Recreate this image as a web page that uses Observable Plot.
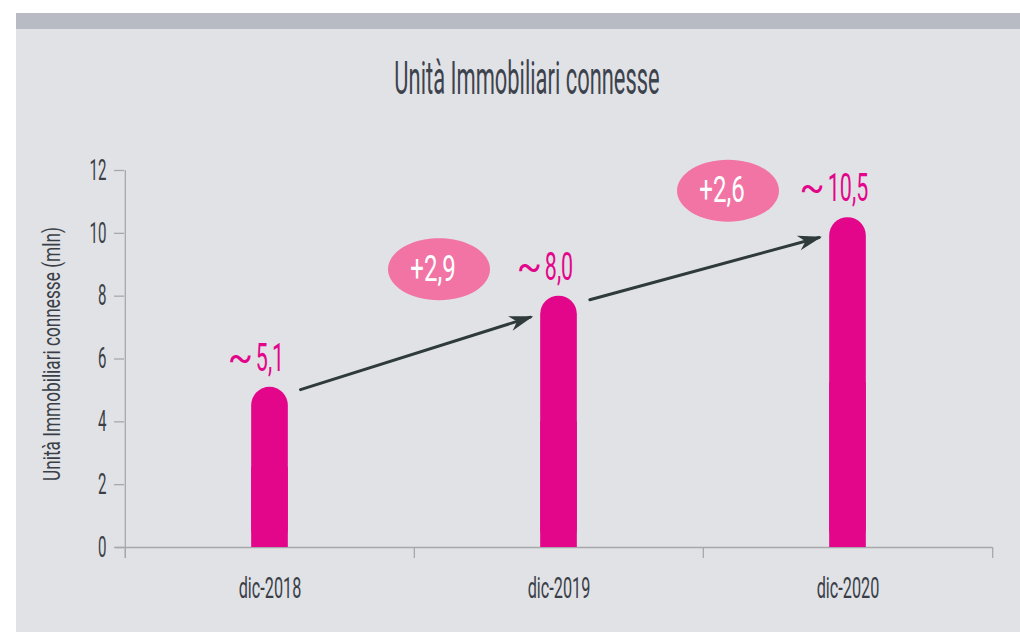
<!DOCTYPE html>
<html>
<head>
<meta charset="utf-8">
<script src="https://cdn.jsdelivr.net/npm/d3@7"></script>
<script src="https://cdn.jsdelivr.net/npm/@observablehq/plot@0.6"></script>
<style>
  html, body { margin: 0; padding: 0; background: #ffffff; width: 1020px; height: 632px; overflow: hidden; }
  #panel { position: absolute; left: 16px; top: 13px; width: 1004px; height: 619px; background: #e1e2e6; }
  #band { position: absolute; left: 16px; top: 13px; width: 1004px; height: 16px; background: #b9bbc4; }
  #title { position: absolute; left: 0; top: 54.6px; width: 1054px; text-align: center;
           font-family: Roboto, sans-serif; font-size: 46px; line-height: 46px; color: #3d434d;
           transform: scaleX(0.476); transform-origin: 527px 0; white-space: nowrap; }
  #chart { position: absolute; left: 0; top: 0; }
</style>
</head>
<body>
<div id="panel"></div>
<div id="band"></div>
<div id="title"></div>
<div id="chart"></div>
<script>
// ---- data ----
const categories = ["dic-2018", "dic-2019", "dic-2020"];
const values = [5.1, 8.0, 10.5];
const valueLabels = ["5,1", "8,0", "10,5"];
const approxSign = "~";
const deltaLabels = ["+2,9", "+2,6"];
const yTicks = [0, 2, 4, 6, 8, 10, 12];
const yDomain = [0, 12];
const titleText = "Unità Immobiliari connesse";
const yLabelText = "Unità Immobiliari connesse (mln)";

// ---- layout / style ----
const W = 1020, H = 632, ML = 124, MR = 28, MT = 170, MB = 85;
const bw = (W - ML - MR) / categories.length;
const barWidth = 37;
const barInset = (bw - barWidth) / 2;
const magenta = "#e3068b";
const pink = "#f174a5";
const textColor = "#3a3f47";
const axisColor = "#a6a8ac";
const arrowColor = "#2f3a3a";

document.getElementById("title").textContent = titleText;

const bars = categories.map((cat, i) => ({cat, value: values[i], label: valueLabels[i]}));
const steps = deltaLabels.map((label, i) => ({from: categories[i], to: categories[i + 1], v1: values[i], v2: values[i + 1], label}));

const ellipseSymbol = {
  draw(ctx) {
    const rx = 51, ry = 31, k = 0.5523;
    ctx.moveTo(rx, 0);
    ctx.bezierCurveTo(rx, ry * k, rx * k, ry, 0, ry);
    ctx.bezierCurveTo(-rx * k, ry, -rx, ry * k, -rx, 0);
    ctx.bezierCurveTo(-rx, -ry * k, -rx * k, -ry, 0, -ry);
    ctx.bezierCurveTo(rx * k, -ry, rx, -ry * k, rx, 0);
    ctx.closePath();
  }
};

const svg = Plot.plot({
  width: W, height: H,
  marginLeft: ML, marginRight: MR, marginTop: MT, marginBottom: MB,
  style: {fontFamily: "Roboto, 'DejaVu Sans', sans-serif", background: "transparent", overflow: "visible", color: textColor},
  x: {type: "band", domain: categories, padding: 0},
  y: {domain: yDomain},
  marks: [
    Plot.ruleY([0], {stroke: axisColor, strokeWidth: 1.3, insetLeft: -9}),
    Plot.ruleX([categories[0]], {dx: -bw / 2, stroke: axisColor, strokeWidth: 1.3, insetBottom: -11}),
    Plot.ruleX(categories, {y1: 0, y2: 0, dx: -bw / 2, insetBottom: -11, stroke: axisColor, strokeWidth: 1.3}),
    Plot.ruleX([categories[categories.length - 1]], {y1: 0, y2: 0, dx: bw / 2, insetBottom: -11, stroke: axisColor, strokeWidth: 1.3}),
    Plot.axisY({ticks: yTicks, tickSize: 10, tickPadding: 8, fontSize: 29, label: null, stroke: axisColor, strokeWidth: 1.3, fill: textColor}),
    Plot.axisX({tickSize: 0, tickPadding: 30, fontSize: 29, label: null, fill: textColor}),
    Plot.text([yLabelText], {text: d => d, frameAnchor: "left", textAnchor: "middle", rotate: -90, dx: -72, dy: -5, fontSize: 23, fill: textColor, ariaDescription: "ylabel"}),
    Plot.barY(bars, {x: "cat", y: "value", fill: magenta, insetLeft: barInset, insetRight: barInset, rx: barWidth / 2}),
    Plot.barY(bars, {x: "cat", y1: 0, y2: d => d.value / 2, fill: magenta, insetLeft: barInset, insetRight: barInset}),
    Plot.text(bars, {x: "cat", y: "value", text: "label", dy: -29, fontSize: 39, fill: magenta, ariaDescription: "value"}),
    Plot.text(bars, {x: "cat", y: "value", text: () => approxSign, textAnchor: "end", dy: -29, fontSize: 39, fill: magenta, ariaDescription: "tilde"}),
    Plot.arrow(steps, {x1: "from", y1: "v1", x2: "to", y2: "v2", dy: 12, insetStart: 32, insetEnd: 30, headLength: 0, stroke: arrowColor, strokeWidth: 3, ariaDescription: "arrow"}),
    Plot.dot(steps, {x: "to", y: "v2", dx: -120, dy: -27, symbol: ellipseSymbol, fill: pink}),
    Plot.text(steps, {x: "to", y: "v2", text: "label", dx: -126, dy: -27, fontSize: 37, fill: "white", ariaDescription: "delta"})
  ]
});

document.getElementById("chart").append(svg);

// condense text horizontally (the reference uses a very narrow typeface)
function condense(selector, k) {
  svg.querySelectorAll(selector).forEach(t => {
    let tr = t.getAttribute("transform");
    if (!tr) {
      const x = t.getAttribute("x") || 0, y = t.getAttribute("y") || 0;
      t.removeAttribute("x"); t.removeAttribute("y");
      tr = `translate(${x},${y})`;
    }
    t.setAttribute("transform", tr + ` scale(${k},1)`);
  });
}
const numScale = 0.55;
condense('g[aria-label="y-axis tick label"] text', 0.52);
condense('g[aria-label="x-axis tick label"] text', 0.56);
condense('g[aria-description="ylabel"] text', 0.75);
condense('g[aria-description="delta"] text', 0.65);
condense('g[aria-description="value"] text', numScale);

// place the tilde just left of each number
const nums = svg.querySelectorAll('g[aria-description="value"] text');
svg.querySelectorAll('g[aria-description="tilde"] text').forEach((t, i) => {
  const w = nums[i] ? nums[i].getBBox().width * numScale : 0;
  const tr = t.getAttribute("transform") || "";
  t.setAttribute("transform", `translate(${-w / 2 - 3},0) ${tr} scale(0.95,1)`);
});

// filled barbed arrowheads
const ns = "http://www.w3.org/2000/svg";
const defs = document.createElementNS(ns, "defs");
const marker = document.createElementNS(ns, "marker");
marker.setAttribute("id", "barbhead");
marker.setAttribute("viewBox", "-26 -10 30 20");
marker.setAttribute("refX", "0");
marker.setAttribute("refY", "0");
marker.setAttribute("markerWidth", "30");
marker.setAttribute("markerHeight", "20");
marker.setAttribute("markerUnits", "userSpaceOnUse");
marker.setAttribute("orient", "auto");
const mp = document.createElementNS(ns, "path");
mp.setAttribute("d", "M3,0L-21,-7.5L-14,0L-21,7.5Z");
mp.setAttribute("fill", arrowColor);
marker.appendChild(mp);
defs.appendChild(marker);
svg.insertBefore(defs, svg.firstChild);
svg.querySelectorAll('g[aria-description="arrow"] path').forEach(p => {
  const d = p.getAttribute("d");
  const j = d.indexOf("M", 1);
  if (j > 0) p.setAttribute("d", d.slice(0, j));
  p.setAttribute("marker-end", "url(#barbhead)");
});
</script>
</body>
</html>
